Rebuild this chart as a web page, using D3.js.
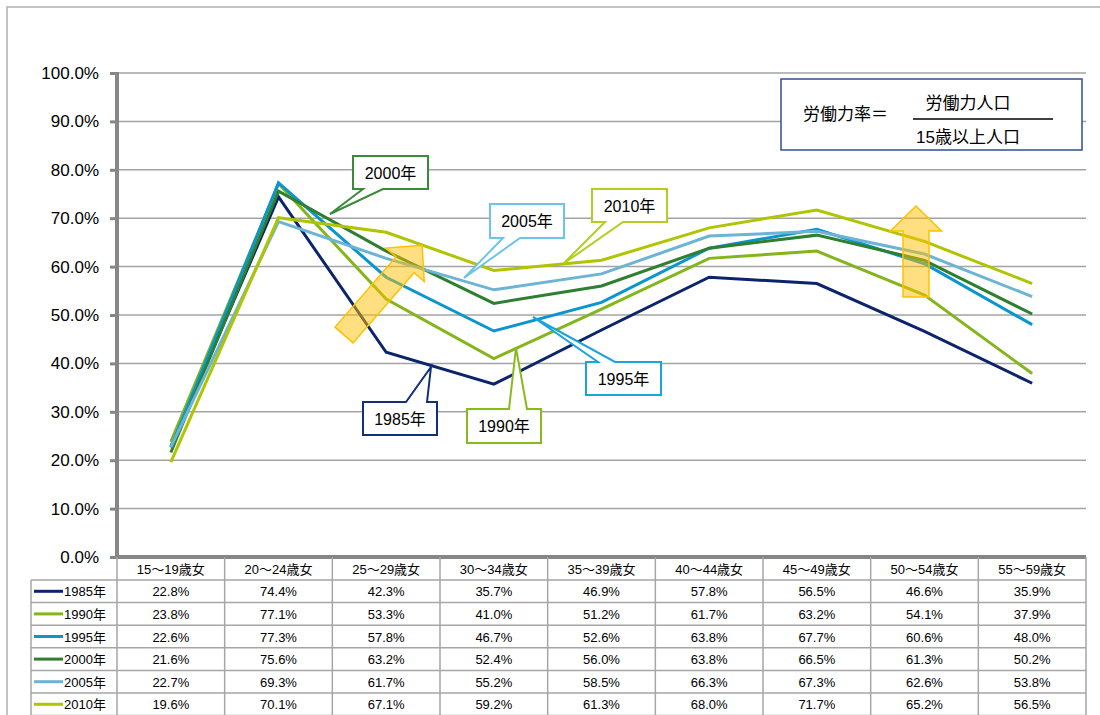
<!DOCTYPE html>
<html>
<head>
<meta charset="utf-8">
<script src="https://cdn.jsdelivr.net/npm/d3@7"></script>
<style>
  body { margin: 0; background: #fff; }
  svg text { font-family: "Liberation Sans", Arial, "Noto Sans CJK JP", sans-serif; fill: #000; }
</style>
</head>
<body>
<div id="chart"></div>
<script>
// categories and series (労働力率, %)
const categories = ['15～19歳女', '20～24歳女', '25～29歳女', '30～34歳女', '35～39歳女',
    '40～44歳女', '45～49歳女', '50～54歳女', '55～59歳女'];
const years = ['1985年', '1990年', '1995年', '2000年', '2005年', '2010年'];
const values1985 = [22.8, 74.4, 42.3, 35.7, 46.9, 57.8, 56.5, 46.6, 35.9];
const values1990 = [23.8, 77.1, 53.3, 41.0, 51.2, 61.7, 63.2, 54.1, 37.9];
const values1995 = [22.6, 77.3, 57.8, 46.7, 52.6, 63.8, 67.7, 60.6, 48.0];
const values2000 = [21.6, 75.6, 63.2, 52.4, 56.0, 63.8, 66.5, 61.3, 50.2];
const values2005 = [22.7, 69.3, 61.7, 55.2, 58.5, 66.3, 67.3, 62.6, 53.8];
const values2010 = [19.6, 70.1, 67.1, 59.2, 61.3, 68.0, 71.7, 65.2, 56.5];
const yTicks = [0, 10, 20, 30, 40, 50, 60, 70, 80, 90, 100];

const seriesValues = [values1985, values1990, values1995, values2000, values2005, values2010];
const colors = ['#0b246b', '#84b51b', '#0a95cf', '#2e7f2f', '#6cb4d6', '#b0c400'];

const width = 1100, height = 715;
const plot = { left: 117, right: 1086, top: 73, bottom: 557 };
const headerH = 23, rowH = 22.6, legendLeft = 31;

const svg = d3.select('#chart').append('svg')
    .attr('width', width).attr('height', height);

// outer frame
svg.append('path')
    .attr('d', `M7,${height} V7 H${width}`)
    .attr('fill', 'none').attr('stroke', '#b0b0b0').attr('stroke-width', 1.5);

const x = d3.scaleBand().domain(categories).range([plot.left, plot.right]).padding(0);
const xc = c => x(c) + x.bandwidth() / 2;
const y = d3.scaleLinear().domain([0, 100]).range([plot.bottom, plot.top]);

// gridlines
svg.append('g').selectAll('line').data(yTicks.filter(t => t > 0)).enter().append('line')
    .attr('x1', plot.left).attr('x2', plot.right)
    .attr('y1', d => y(d)).attr('y2', d => y(d))
    .attr('stroke', '#a3a3a3').attr('stroke-width', 1.5);

// y axis
const yAxis = svg.append('g')
    .attr('transform', `translate(${plot.left},0)`)
    .call(d3.axisLeft(y).tickValues(yTicks).tickFormat(d => d.toFixed(1) + '%')
        .tickSize(7).tickPadding(11));
yAxis.select('.domain').remove();
yAxis.selectAll('.tick line').attr('stroke', '#868686').attr('stroke-width', 3);
yAxis.selectAll('.tick text').style('font-size', '17px').attr('fill', '#000');
svg.append('line')
    .attr('x1', plot.left).attr('x2', plot.left)
    .attr('y1', plot.top - 1).attr('y2', plot.bottom + 2)
    .attr('stroke', '#868686').attr('stroke-width', 4);

// series lines
const line = d3.line().x((d, i) => xc(categories[i])).y(d => y(d));
svg.append('g').selectAll('path').data(seriesValues).enter().append('path')
    .attr('d', d => line(d))
    .attr('fill', 'none')
    .attr('stroke', (d, i) => colors[i])
    .attr('stroke-width', 3)
    .attr('stroke-linejoin', 'miter');

// x axis line
svg.append('line')
    .attr('x1', plot.left - 2).attr('x2', plot.right)
    .attr('y1', plot.bottom).attr('y2', plot.bottom)
    .attr('stroke', '#868686').attr('stroke-width', 4);

// data table
const table = svg.append('g');
const tableBottom = plot.bottom + headerH + rowH * years.length;
const grid = '#a6a6a6';
// vertical lines
categories.forEach((c, i) => {
    if (i === 0) return;
    table.append('line').attr('x1', x(c)).attr('x2', x(c))
        .attr('y1', plot.bottom).attr('y2', tableBottom)
        .attr('stroke', grid).attr('stroke-width', 1.5);
});
table.append('line').attr('x1', plot.right).attr('x2', plot.right)
    .attr('y1', plot.bottom).attr('y2', tableBottom)
    .attr('stroke', grid).attr('stroke-width', 1.5);
table.append('line').attr('x1', plot.left).attr('x2', plot.left)
    .attr('y1', plot.bottom).attr('y2', tableBottom)
    .attr('stroke', grid).attr('stroke-width', 1.5);
table.append('line').attr('x1', legendLeft).attr('x2', legendLeft)
    .attr('y1', plot.bottom + headerH).attr('y2', tableBottom)
    .attr('stroke', grid).attr('stroke-width', 1.5);
// horizontal lines
d3.range(years.length + 1).forEach(r => {
    const yy = plot.bottom + headerH + r * rowH;
    table.append('line').attr('x1', legendLeft).attr('x2', plot.right)
        .attr('y1', yy).attr('y2', yy)
        .attr('stroke', grid).attr('stroke-width', 1.5);
});
// header text
table.selectAll('text.hdr').data(categories).enter().append('text')
    .attr('class', 'hdr')
    .attr('x', d => xc(d)).attr('y', plot.bottom + headerH / 2 + 5)
    .attr('text-anchor', 'middle').style('font-size', '13px')
    .text(d => d);
// rows
years.forEach((yr, r) => {
    const cy = plot.bottom + headerH + r * rowH + rowH / 2;
    table.append('line')
        .attr('x1', legendLeft + 3).attr('x2', legendLeft + 32)
        .attr('y1', cy).attr('y2', cy)
        .attr('stroke', colors[r]).attr('stroke-width', 3);
    table.append('text')
        .attr('x', legendLeft + 33).attr('y', cy + 5)
        .style('font-size', '13px').text(yr);
    table.append('g').selectAll('text').data(seriesValues[r]).enter().append('text')
        .attr('x', (d, i) => xc(categories[i])).attr('y', cy + 5)
        .attr('text-anchor', 'middle').style('font-size', '13px')
        .text(d => d.toFixed(1) + '%');
});

// orange arrows (decorations)
const arrow = (g, cx, cy, angle, len, shaftW, headW, headL) => {
    const s = shaftW / 2, h = headW / 2, b = len - headL;
    const pts = [[0, -s], [b, -s], [b, -h], [len, 0], [b, h], [b, s], [0, s]];
    g.append('polygon')
        .attr('points', pts.map(p => p.join(',')).join(' '))
        .attr('transform', `translate(${cx},${cy}) rotate(${angle})`)
        .attr('fill', '#ffc000').attr('fill-opacity', 0.5)
        .attr('stroke', '#ffc000').attr('stroke-width', 1.5);
};
const deco = svg.append('g');
arrow(deco, 344, 335, -49, 119, 24, 51, 26);
arrow(deco, 916, 297, -90, 91, 26, 51, 25);

// callouts (layout in pixels)
const callouts = [
    { text: '2000年', color: '#3a8a3a', box: [353, 156, 428, 189], side: 'bottom', base: [363, 383], tip: [330, 214] },
    { text: '2005年', color: '#6ec4e8', box: [490, 204, 564, 238], side: 'bottom', base: [503, 520], tip: [464, 278] },
    { text: '2010年', color: '#b5cc20', box: [592, 189, 667, 222], side: 'bottom', base: [605, 623], tip: [563, 264] },
    { text: '1995年', color: '#1aa3dd', box: [586, 362, 661, 395], side: 'top', base: [598, 615], tip: [533, 317] },
    { text: '1985年', color: '#13307a', box: [363, 402, 437, 435], side: 'top', base: [406, 427], tip: [431, 367] },
    { text: '1990年', color: '#88bb1a', box: [467, 409, 541, 443], side: 'top', base: [509, 527], tip: [516, 348] }
];
const calloutPath = c => {
    const [x0, y0, x1, y1] = c.box, [a, b] = c.base, [tx, ty] = c.tip;
    if (c.side === 'bottom') {
        return `M${x0},${y0} L${x1},${y0} L${x1},${y1} L${b},${y1} L${tx},${ty} L${a},${y1} L${x0},${y1} Z`;
    }
    return `M${x0},${y0} L${a},${y0} L${tx},${ty} L${b},${y0} L${x1},${y0} L${x1},${y1} L${x0},${y1} Z`;
};
const cg = svg.append('g').selectAll('g').data(callouts).enter().append('g');
cg.append('path')
    .attr('d', calloutPath)
    .attr('fill', '#fff').attr('stroke', d => d.color).attr('stroke-width', 2);
cg.append('text')
    .attr('x', d => (d.box[0] + d.box[2]) / 2)
    .attr('y', d => (d.box[1] + d.box[3]) / 2 + 6)
    .attr('text-anchor', 'middle').style('font-size', '16px')
    .text(d => d.text);

// formula box
const fb = svg.append('g');
fb.append('rect').attr('x', 781).attr('y', 79).attr('width', 301).attr('height', 71)
    .attr('fill', '#fff').attr('stroke', '#2f4f8f').attr('stroke-width', 1.5);
fb.append('text').attr('x', 803).attr('y', 120).style('font-size', '17px').text('労働力率＝');
fb.append('line').attr('x1', 913).attr('x2', 1053).attr('y1', 119).attr('y2', 119)
    .attr('stroke', '#000').attr('stroke-width', 1.5);
fb.append('text').attr('x', 968).attr('y', 109).attr('text-anchor', 'middle')
    .style('font-size', '17px').text('労働力人口');
fb.append('text').attr('x', 968).attr('y', 143).attr('text-anchor', 'middle')
    .style('font-size', '17px').text('15歳以上人口');
</script>
</body>
</html>
